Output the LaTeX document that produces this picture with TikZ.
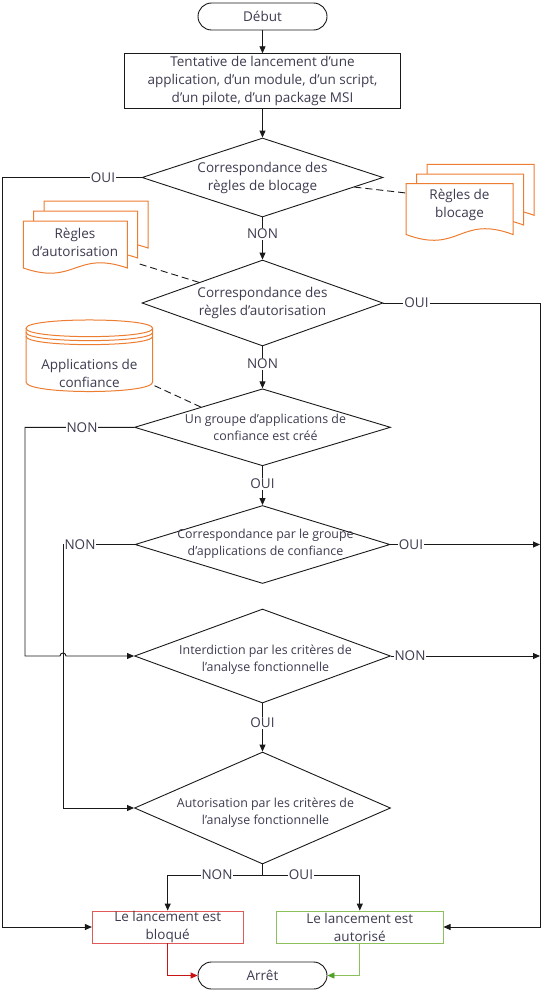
\documentclass[tikz,border=0pt]{standalone}
\usepackage{fontspec}
\setmainfont{Open Sans}
\usetikzlibrary{shapes.geometric,arrows.meta,calc}
\definecolor{txt}{RGB}{60,60,80}
\definecolor{orng}{RGB}{237,125,49}
\definecolor{redb}{RGB}{224,90,90}
\definecolor{reda}{RGB}{200,20,20}
\definecolor{grnb}{RGB}{140,192,90}
\definecolor{grna}{RGB}{80,160,40}
\definecolor{ln}{RGB}{25,25,25}
\newcommand\onedoc[5]{%
  \filldraw[docst] (#1,#2) -- (#1+#3,#2) -- (#1+#3,#2+#4)
   .. controls (#1+0.5*#3,#2+#4-#5) and (#1+0.5*#3,#2+#4+#5) .. (#1,#2+#4) -- cycle;}
\begin{document}
\begin{tikzpicture}[x=1pt,y=-1pt,
 every node/.style={text=txt},
 big/.style={font=\fontsize{13.5}{18}\selectfont},
 small/.style={font=\fontsize{12.4}{17.3}\selectfont},
 term/.style={draw=ln, line width=0.9pt, rounded corners=13.5pt, minimum width=129pt, minimum height=27pt, inner sep=0pt, big},
 proc/.style={draw=ln, line width=0.9pt, inner sep=0pt, align=center, big},
 dia/.style={diamond, draw=ln, line width=0.9pt, inner sep=0pt},
 dtext/.style={align=center, inner sep=0pt},
 lab/.style={fill=white, inner sep=1pt, big},
 conn/.style={draw=ln, line width=0.9pt, -{Triangle[length=7pt,width=6pt]}},
 plain/.style={draw=ln, line width=0.9pt},
 dashc/.style={draw=ln, line width=0.9pt, dash pattern=on 7pt off 4pt},
 docst/.style={draw=orng, fill=white, line width=1pt},
]
\useasboundingbox (0,0) rectangle (542,990);

% multi-documents and database
\onedoc{427}{164.3}{107}{51}{20}
\onedoc{416.5}{174}{107}{51}{20}
\onedoc{406}{183.5}{107}{51}{20}
\node[dtext,big] (docRt) at (459.5,205) {Règles de\\blocage};
\coordinate (docRp) at (406,193);

\onedoc{44}{201}{104}{47}{18}
\onedoc{33.7}{211}{104}{47}{18}
\onedoc{23.3}{221}{104}{47}{18}
\node[dtext,big] (docLt) at (75,242) {Règles\\d’autorisation};
\coordinate (docLp) at (138,263.5);

\filldraw[docst] (26,328.3) -- (26,382) .. controls (26,394.7) and (152.7,394.7) .. (152.7,382) -- (152.7,328.3)
  .. controls (152.7,317.2) and (26,317.2) .. (26,328.3) -- cycle;
\draw[docst,fill=none] (26,328.3) .. controls (26,339.4) and (152.7,339.4) .. (152.7,328.3);
\draw[docst,fill=none] (26,332.3) .. controls (26,343.4) and (152.7,343.4) .. (152.7,332.3);
\draw[docst,fill=none] (26,336.3) .. controls (26,347.4) and (152.7,347.4) .. (152.7,336.3);
\node[dtext,big] (cylt) at (89.4,373) {Applications de\\confiance};
\coordinate (cylp) at (153,385);

% main flow
\node[term] (debut) at (262.5,16.5) {Début};
\node[proc, minimum width=276pt, minimum height=54.5pt] (tent) at (262.5,81)
  {Tentative de lancement d’une\\application, d’un module, d’un script,\\d’un pilote, d’un package MSI};
\node[dia, minimum width=241pt, minimum height=79pt] (d1) at (262.5,177.5) {};
\node[dtext,big] (t1) at (262.5,177.5) {Correspondance des\\règles de blocage};
\node[dia, minimum width=241pt, minimum height=86pt] (d2) at (262.5,303) {};
\node[dtext,big] (t2) at (262.5,303) {Correspondance des\\règles d’autorisation};
\node[dia, minimum width=256pt, minimum height=77pt] (d3) at (262.5,427.3) {};
\node[dtext,small] (t3) at (265.5,427) {Un groupe d’applications de\\confiance est créé};
\node[dia, minimum width=255pt, minimum height=78pt] (d4) at (262.5,544.5) {};
\node[dtext,small] (t4) at (265.5,544) {Correspondance par le groupe\\d’applications de confiance};
\node[dia, minimum width=256pt, minimum height=94pt] (d5) at (262.5,656) {};
\node[dtext,small] (t5) at (265.5,660) {Interdiction par les critères de\\l’analyse fonctionnelle};
\node[dia, minimum width=256pt, minimum height=112pt] (d6) at (262.5,808) {};
\node[dtext,small] (t6) at (265.5,813) {Autorisation par les critères de\\l’analyse fonctionnelle};

\node[proc, draw=redb, minimum width=150.7pt, minimum height=32pt] (blocked) at (167.7,927) {Le lancement est\\bloqué};
\node[proc, draw=grnb, minimum width=166.5pt, minimum height=32pt] (autorise) at (359.8,927) {Le lancement est\\autorisé};
\node[term] (arret) at (262.5,975.5) {Arrêt};

\coordinate (Lx) at (2,0);
\coordinate (L2) at (25,0);
\coordinate (L3) at (63,0);
\coordinate (Rx) at (540,0);
\coordinate (J) at (262.5,875);

% connectors
\draw[conn] (debut) -- (tent);
\draw[conn] (tent) -- (d1);
\draw[conn] (d1) -- (d2);
\draw[conn] (d2) -- (d3);
\draw[conn] (d3) -- (d4);
\draw[conn] (d5) -- (d6);
\draw[conn] (d1.west) -- (d1.west -| Lx) |- (blocked.west);
\draw[conn] (d2.east) -- (d2.east -| Rx) |- (autorise.east);
\draw[conn] (d3.west) -- (d3.west -| L2) -- (L2 |- d5.west) -- ++(35,0)
   .. controls +(0,-4) and +(0,-4) .. ++(6,0) -- (d5.west);
\draw[conn] (d4.west) -- (d4.west -| L3) |- (d6.west);
\draw[conn] (d4.east) -- (d4.east -| Rx);
\draw[conn] (d5.east) -- (d5.east -| Rx);
\draw[plain] (d6.south) -- (J);
\draw[conn] (J) -| (blocked.north);
\draw[conn] (J) -| (autorise.north);
\draw[draw=reda, line width=0.9pt, -{Triangle[length=7pt,width=6pt]}] (blocked.south) |- (arret.west);
\draw[draw=grnb, line width=0.9pt, -{Triangle[length=7pt,width=6pt,color=grna]}] (autorise.south) |- (arret.east);

\draw[dashc] ($(d1.east)!0.24!(d1.south)$) -- (docRp);
\draw[dashc] ($(d2.west)!0.475!(d2.north)$) -- (docLp);
\draw[dashc] ($(d3.west)!0.52!(d3.north)$) -- (cylp);

% labels
\node[lab] (oui1) at (103,177.5) {OUI};
\node[lab] (non1) at (262.5,234) {NON};
\node[lab] (oui2) at (416.5,303) {OUI};
\node[lab] (non2) at (262.5,363.7) {NON};
\node[lab] (non3) at (82,427.3) {NON};
\node[lab] (oui3) at (262.5,483.7) {OUI};
\node[lab] (non4) at (80,544.5) {NON};
\node[lab] (oui4) at (411,544.5) {OUI};
\node[lab] (non5) at (410,656) {NON};
\node[lab] (oui5) at (262.5,723) {OUI};
\node[lab] (non6) at (217,875) {NON};
\node[lab] (oui6) at (301,875) {OUI};
\end{tikzpicture}
\end{document}
